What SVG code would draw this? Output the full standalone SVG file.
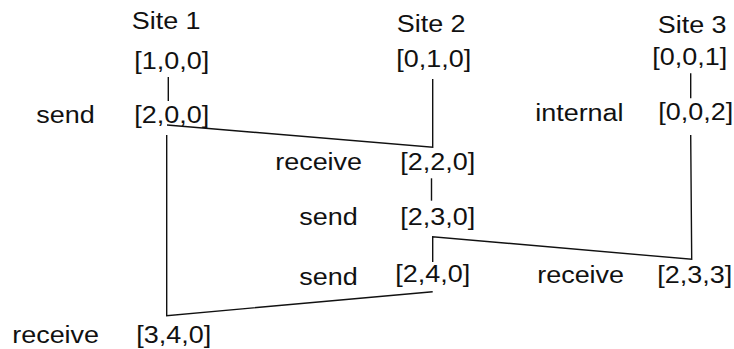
<svg xmlns="http://www.w3.org/2000/svg" width="734" height="349" viewBox="0 0 734 349">
  <style>
    text { font-family: "Liberation Sans", Arial, Helvetica, sans-serif; font-size: 24.5px; fill: #111; }
    .conn { fill: none; stroke: #111; stroke-width: 1.4; stroke-linejoin: miter; }
  </style>
  <rect width="734" height="349" fill="#fff"/>

  <!-- connectors: process timelines and messages -->
  <g id="connectors">
    <!-- Site 1 -->
    <line class="conn" x1="168.3" y1="77" x2="168.3" y2="101"/>
    <polyline class="conn" points="167,125 432.7,147.3 432.7,79"/>
    <polyline class="conn" points="166.7,135 166.7,315.7 432.7,291.7"/>
    <!-- Site 2 -->
    <line class="conn" x1="431.5" y1="178.3" x2="431.5" y2="200.7"/>
    <polyline class="conn" points="432.7,262 432.7,236.7 691.7,259.3 690.7,135"/>
    <!-- Site 3 -->
    <line class="conn" x1="690.7" y1="73.3" x2="690.7" y2="98.3"/>
  </g>

  <!-- site headers -->
  <g id="site1-header"><text transform="translate(131.7 29.3) scale(1.1 1)">Site 1</text></g>
  <g id="site2-header"><text transform="translate(396.7 31.7) scale(1.1 1)">Site 2</text></g>
  <g id="site3-header"><text transform="translate(657.7 33) scale(1.1 1)">Site 3</text></g>

  <!-- Site 1 events -->
  <g id="s1-init"><text transform="translate(134.3 69) scale(1.1 1)">[1,0,0]</text></g>
  <g id="s1-send">
    <text transform="translate(36.2 122.7) scale(1.1 1)">send</text>
    <text transform="translate(134.3 122.7) scale(1.1 1)">[2,0,0]</text>
  </g>
  <g id="s1-receive">
    <text transform="translate(12.2 343) scale(1.1 1)">receive</text>
    <text transform="translate(136.3 343) scale(1.1 1)">[3,4,0]</text>
  </g>

  <!-- Site 2 events -->
  <g id="s2-init"><text transform="translate(396.3 66.7) scale(1.1 1)">[0,1,0]</text></g>
  <g id="s2-receive">
    <text transform="translate(275.2 170) scale(1.1 1)">receive</text>
    <text transform="translate(400.3 170) scale(1.1 1)">[2,2,0]</text>
  </g>
  <g id="s2-send1">
    <text transform="translate(299.2 225) scale(1.1 1)">send</text>
    <text transform="translate(400.3 225) scale(1.1 1)">[2,3,0]</text>
  </g>
  <g id="s2-send2">
    <text transform="translate(299.2 285) scale(1.1 1)">send</text>
    <text transform="translate(395.3 281.7) scale(1.1 1)">[2,4,0]</text>
  </g>

  <!-- Site 3 events -->
  <g id="s3-init"><text transform="translate(652.3 65) scale(1.1 1)">[0,0,1]</text></g>
  <g id="s3-internal">
    <text transform="translate(535.2 120.7) scale(1.1 1)">internal</text>
    <text transform="translate(658.3 120) scale(1.1 1)">[0,0,2]</text>
  </g>
  <g id="s3-receive">
    <text transform="translate(537.2 283) scale(1.1 1)">receive</text>
    <text transform="translate(657.3 283) scale(1.1 1)">[2,3,3]</text>
  </g>
</svg>
